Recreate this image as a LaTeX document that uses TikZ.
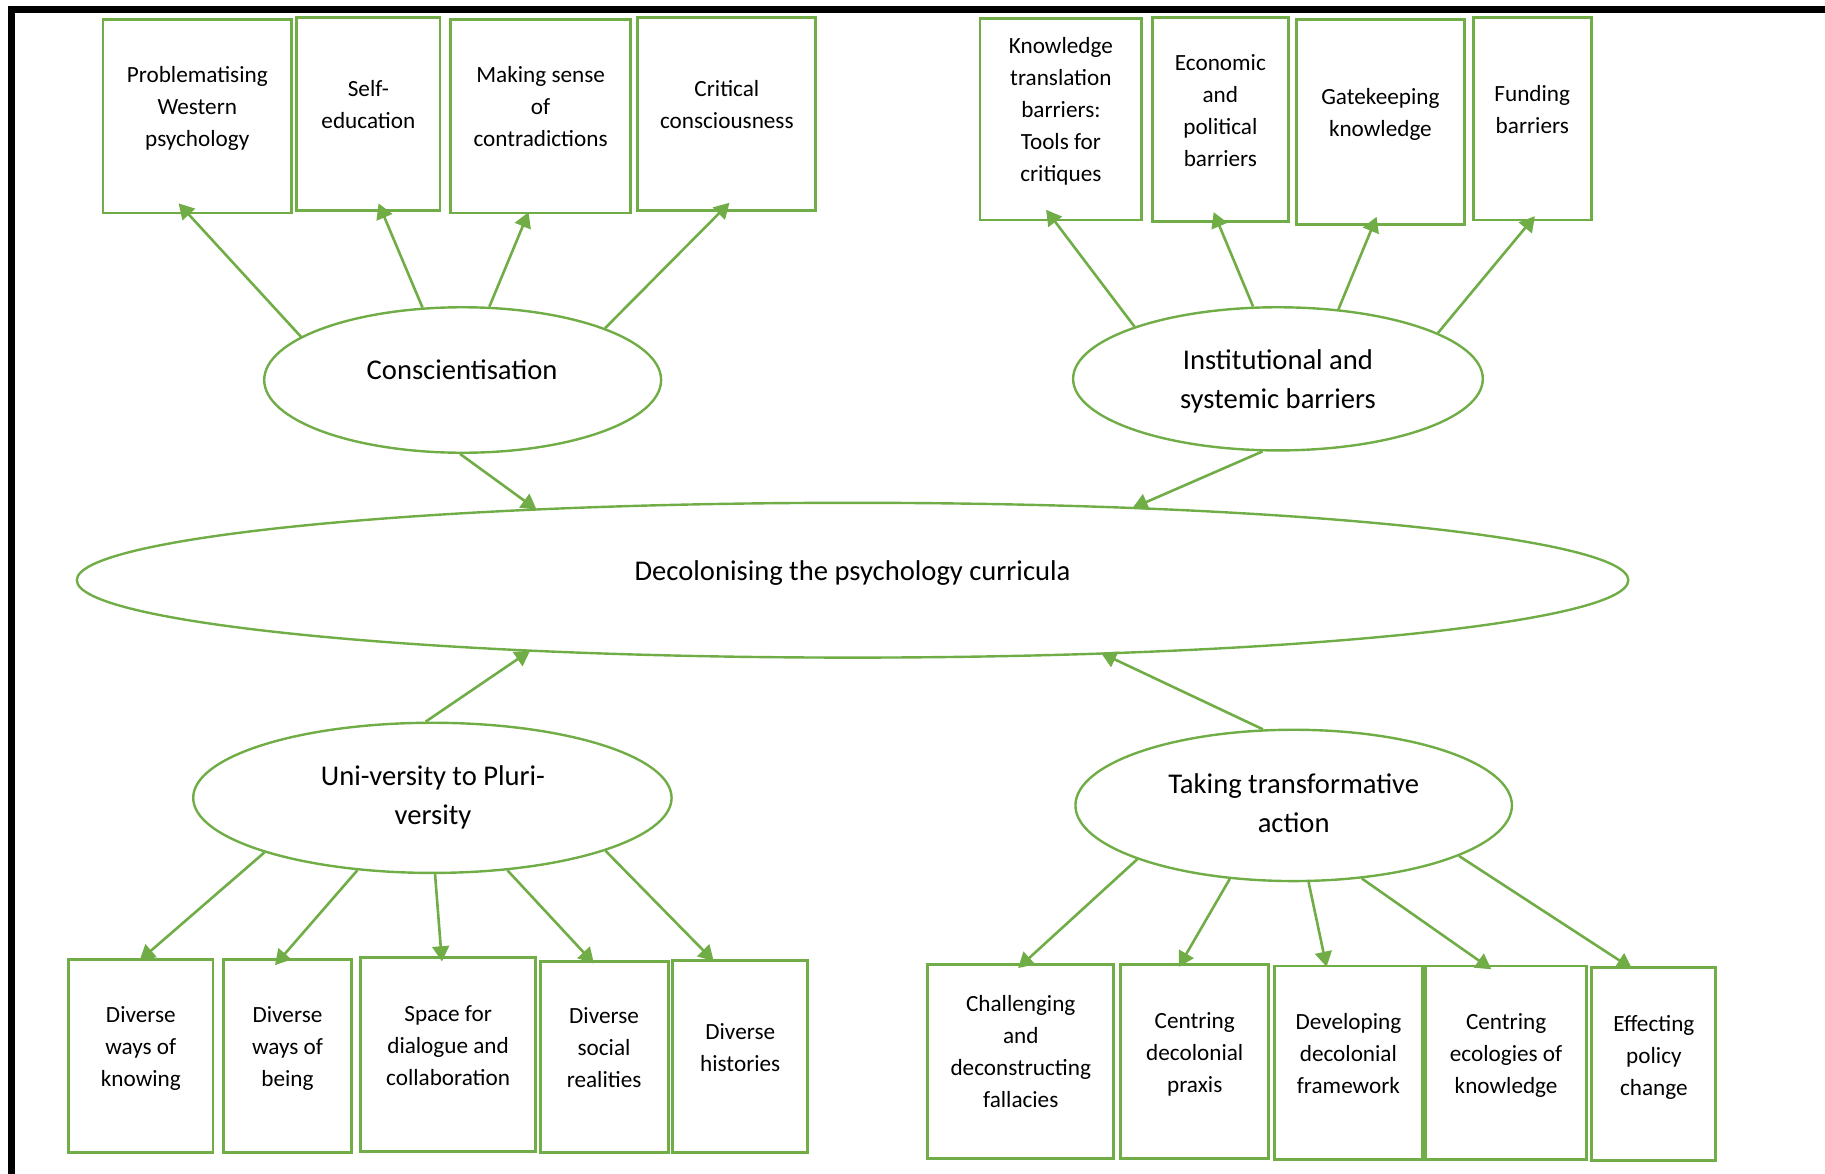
\documentclass[tikz,border=0pt]{standalone}
\usepackage{fontspec}
\setmainfont{Carlito}
\usetikzlibrary{shapes.geometric,arrows.meta,calc}
\definecolor{leaf}{RGB}{112,173,71}
\newcommand\boxfont{\fontsize{11.6pt}{16pt}\selectfont}
\newcommand\ellfont{\fontsize{14.3pt}{19.2pt}\selectfont}
% rectangle given by its left, right, top and bottom edges
\newcommand\topicbox[5]{\node[topic, minimum width={(#3-#2)*0.582pt}, minimum height={(#5-#4)*0.582pt}] (#1) at ({(#2+#3)/2},{(#4+#5)/2}) {};}
% ellipse given by centre and full width/height
\newcommand\themeell[5]{\node[theme, minimum width={#4*0.582pt}, minimum height={#5*0.582pt}] (#1) at (#2,#3) {};}

\begin{document}
\begin{tikzpicture}[x=0.582pt,y=-0.582pt,
  frame/.style={line width=3.3pt, black, line join=miter},
  topic/.style={rectangle, draw=leaf, line width=1.45pt, inner sep=0pt},
  theme/.style={ellipse, draw=leaf, line width=1.2pt, inner sep=0pt},
  boxtext/.style={anchor=north, yshift=10pt, inner sep=0pt, align=center, font=\boxfont,
    execute at begin node={\rule{0pt}{10pt}}},
  themetext/.style={anchor=north, yshift=12pt, inner sep=0pt, align=center, font=\ellfont,
    execute at begin node={\rule{0pt}{12pt}}},
  link/.style={draw=leaf, line width=1.3pt, -{Triangle[length=7.6pt,width=8.4pt]}},
]
\useasboundingbox (0,0) rectangle (1568,1008);

% page frame (top and left edges)
\draw[frame] (10,1030) -- (10,8) -- (1590,8);

% ---- themes ----
\themeell{cons}{397.5}{326.5}{341}{125}
\themeell{inst}{1098}{325.5}{352}{123}
\themeell{dec}{732.5}{498.5}{1333}{133}
\themeell{uni}{371.5}{685.5}{411}{129}
\themeell{tak}{1111.5}{692}{375}{130}

\node[themetext] (cons-t) at (397,326) {Conscientisation};
\node[themetext] (inst-t) at (1098,320.9) {Institutional and\\systemic barriers};
\node[themetext] (dec-t) at (732.5,498) {Decolonising the psychology curricula};
\node[themetext] (uni-t) at (372,678.4) {Uni-versity to Pluri-\\versity};
\node[themetext] (tak-t) at (1111.5,685.4) {Taking transformative\\action};

% ---- top row ----
\topicbox{b1}{88.5}{250.5}{17}{183}
\topicbox{b2}{255}{378}{15}{181}
\topicbox{b3}{387}{542}{17}{183}
\topicbox{b4}{548}{701}{15}{181}
\topicbox{b5}{842}{981}{16}{189}
\topicbox{b6}{990}{1107}{15}{190}
\topicbox{b7}{1114}{1258}{17}{193}
\topicbox{b8}{1266}{1367}{15}{189}

\node[boxtext] (b1-t) at (169.5,73.9) {Problematising\\Western\\psychology};
\node[boxtext] (b2-t) at (316.5,85.9) {Self-\\education};
\node[boxtext] (b3-t) at (464.5,73.9) {Making sense\\of\\contradictions};
\node[boxtext] (b4-t) at (624.5,85.9) {Critical\\consciousness};
\node[boxtext] (b5-t) at (911.5,49.4) {Knowledge\\translation\\barriers:\\Tools for\\critiques};
\node[boxtext] (b6-t) at (1048.5,63.4) {Economic\\and\\political\\barriers};
\node[boxtext] (b7-t) at (1186,92.4) {Gatekeeping\\knowledge};
\node[boxtext] (b8-t) at (1316.5,90.4) {Funding\\barriers};

% ---- bottom row ----
\topicbox{b9}{59}{183}{824}{990}
\topicbox{b10}{192}{302}{824}{990}
\topicbox{b11}{310}{460}{823}{989}
\topicbox{b12}{464}{574}{826}{990}
\topicbox{b13}{578}{694}{825}{990}
\topicbox{b14}{797}{957}{829}{995}
\topicbox{b15}{963}{1090}{829}{995}
\topicbox{b16}{1095}{1222}{830}{996}
\topicbox{b17}{1225}{1363}{830}{996}
\topicbox{b18}{1367.5}{1474}{831}{997}

\node[boxtext] (b9-t) at (121,881.9) {Diverse\\ways of\\knowing};
\node[boxtext] (b10-t) at (247,881.9) {Diverse\\ways of\\being};
\node[boxtext] (b11-t) at (385,880.9) {Space for\\dialogue and\\collaboration};
\node[boxtext] (b12-t) at (519,882.9) {Diverse\\social\\realities};
\node[boxtext] (b13-t) at (636,895.9) {Diverse\\histories};
\node[boxtext] (b14-t) at (877,872.4) {Challenging\\and\\deconstructing\\fallacies};
\node[boxtext] (b15-t) at (1026.5,886.9) {Centring\\decolonial\\praxis};
\node[boxtext] (b16-t) at (1158.5,887.9) {Developing\\decolonial\\framework};
\node[boxtext] (b17-t) at (1294,887.9) {Centring\\ecologies of\\knowledge};
\node[boxtext] (b18-t) at (1421,888.9) {Effecting\\policy\\change};

% ---- connectors: themes to their topics ----
\draw[link] (cons.165)   -- ($(b1.south west)+(66.2,-9.5)$);
\draw[link] (cons.119.4) -- ($(b2.south west)+(71.5,-7.5)$);
\draw[link] (cons.70)    -- ($(b3.south west)+(68.4,-2)$);
\draw[link] (cons.20.2)  -- ($(b4.south west)+(80,-8)$);

\draw[link] (inst.160.3) -- ($(b5.south west)+(58,-10)$);
\draw[link] (inst.109.8) -- ($(b6.south west)+(54,-9)$);
\draw[link] (inst.49.7)  -- ($(b7.south west)+(70,-8)$);
\draw[link] (inst.16.3)  -- ($(b8.south west)+(54,-4.5)$);

\draw[link] (uni.198.3) -- ($(b9.north west)+(62.2,2.5)$);
\draw[link] (uni.224)   -- ($(b10.north west)+(45.5,6.5)$);
\draw[link] (uni.272)   -- ($(b11.north west)+(70.9,4.3)$);
\draw[link] (uni.316.5) -- ($(b12.north west)+(47.5,3)$);
\draw[link] (uni.343)   -- ($(b13.north west)+(36.5,2)$);

\draw[link] (tak.199.1) -- ($(b14.north west)+(79,4)$);
\draw[link] (tak.229.9) -- ($(b15.north west)+(51,3)$);
\draw[link] (tak.281)   -- ($(b16.north west)+(46,2)$);
\draw[link] (tak.313)   -- ($(b17.north west)+(57.5,4)$);
\draw[link] (tak.343)   -- ($(b18.north west)+(36,2.5)$);

% ---- connectors: themes to the central ellipse (ends on its outline) ----
\draw[link] (cons.268)   -- ($(dec.center)+(-271.5,-60.7)$);
\draw[link] (inst.258.9) -- ($(dec.center)+(240.5,-62)$);
\draw[link] (uni.95.8)   -- ($(dec.center)+(-277,60.5)$);
\draw[link] (tak.112.4)  -- ($(dec.center)+(213.5,62.5)$);
\end{tikzpicture}
\end{document}
